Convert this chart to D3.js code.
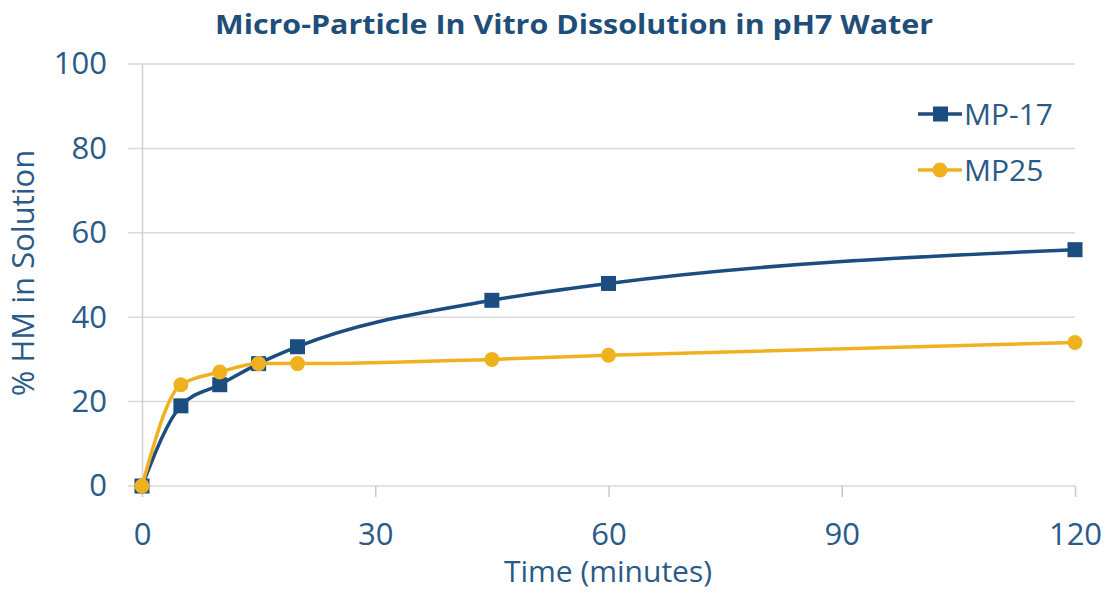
<!DOCTYPE html>
<html>
<head>
<meta charset="utf-8">
<script src="https://cdn.jsdelivr.net/npm/d3@7"></script>
<style>
  body { margin: 0; background: #fff; }
  text { font-family: "Open Sans", "Liberation Sans", sans-serif; }
</style>
</head>
<body>
<svg id="chart" width="1109" height="596"></svg>
<script>
const times = [0, 5, 10, 15, 20, 45, 60, 120]
const mp17 = [0, 19, 24, 29, 33, 44, 48, 56]
const mp25 = [0, 24, 27, 29, 29, 30, 31, 34]
const xTicks = [0, 30, 60, 90, 120]
const yTicks = [0, 20, 40, 60, 80, 100]

const plotLeft = 142, plotRight = 1075, plotTop = 64, plotBottom = 486
const textColor = '#2a5a87'
const blue = '#1b4d80', gold = '#efb21e'

const svg = d3.select('#chart')

const xScale = d3.scaleLinear().domain([0, 120]).range([plotLeft, plotRight])
const yScale = d3.scaleLinear().domain([0, 100]).range([plotBottom, plotTop])

// gridlines
svg.append('g').selectAll('line')
    .data(yTicks)
    .enter()
    .append('line')
    .attr('x1', plotLeft - 14).attr('x2', plotRight)
    .attr('y1', d => yScale(d)).attr('y2', d => yScale(d))
    .attr('stroke', '#d9d9d9').attr('stroke-width', 1.5)

// y axis
const yAxis = d3.axisLeft(yScale).tickValues(yTicks).tickSize(0).tickPadding(35)
const gy = svg.append('g').attr('transform', 'translate(' + plotLeft + ',0)').call(yAxis)
gy.select('.domain').attr('stroke', '#d0d0d0').attr('stroke-width', 1.5)
gy.selectAll('text').attr('fill', textColor).style('font-size', '31px')

// x axis
const xAxis = d3.axisBottom(xScale).tickValues(xTicks).tickSize(11).tickPadding(26)
const gx = svg.append('g').attr('transform', 'translate(0,' + plotBottom + ')').call(xAxis)
gx.select('.domain').remove()
gx.selectAll('line').attr('stroke', '#c8c8c8').attr('stroke-width', 1.5)
gx.selectAll('text').attr('fill', textColor).style('font-size', '31px')

// titles
svg.append('text')
    .attr('x', 215).attr('y', 34)
    .attr('textLength', 718).attr('lengthAdjust', 'spacingAndGlyphs')
    .attr('fill', '#1f4e79')
    .style('font-size', '26px').style('font-weight', 'bold')
    .text('Micro-Particle In Vitro Dissolution in pH7 Water')

svg.append('text')
    .attr('x', 608).attr('y', 582)
    .attr('text-anchor', 'middle')
    .attr('fill', textColor)
    .style('font-size', '30px')
    .text('Time (minutes)')

svg.append('text')
    .attr('transform', 'translate(34,273) rotate(-90)')
    .attr('text-anchor', 'middle')
    .attr('fill', textColor)
    .style('font-size', '31px')
    .text('% HM in Solution')

const series = [
    { name: 'MP-17', values: mp17, color: blue, shape: 'square' },
    { name: 'MP25', values: mp25, color: gold, shape: 'circle' }
]

const line = d3.line()
    .x(d => xScale(d[0]))
    .y(d => yScale(d[1]))
    .curve(d3.curveMonotoneX)

series.forEach(s => {
    const pts = times.map((t, i) => [t, s.values[i]])
    svg.append('path')
        .datum(pts)
        .attr('d', line)
        .attr('fill', 'none')
        .attr('stroke', s.color)
        .attr('stroke-width', 3.5)
    const g = svg.append('g')
    if (s.shape === 'square') {
        g.selectAll('rect').data(pts).enter().append('rect')
            .attr('x', d => xScale(d[0]) - 7.5).attr('y', d => yScale(d[1]) - 7.5)
            .attr('width', 15).attr('height', 15)
            .attr('fill', s.color)
    } else {
        g.selectAll('circle').data(pts).enter().append('circle')
            .attr('cx', d => xScale(d[0])).attr('cy', d => yScale(d[1]))
            .attr('r', 7.5)
            .attr('fill', s.color)
    }
})

// legend
const legend = svg.append('g')
series.forEach((s, i) => {
    const y = 114 + i * 56
    legend.append('line')
        .attr('x1', 918).attr('x2', 962).attr('y1', y).attr('y2', y)
        .attr('stroke', s.color).attr('stroke-width', 3.5)
    if (s.shape === 'square') {
        legend.append('rect').attr('x', 933).attr('y', y - 7.5).attr('width', 15).attr('height', 15).attr('fill', s.color)
    } else {
        legend.append('circle').attr('cx', 940).attr('cy', y).attr('r', 7.5).attr('fill', s.color)
    }
    legend.append('text')
        .attr('x', 964).attr('y', y + 11)
        .attr('fill', textColor)
        .style('font-size', '30px')
        .text(s.name)
})
</script>
</body>
</html>
